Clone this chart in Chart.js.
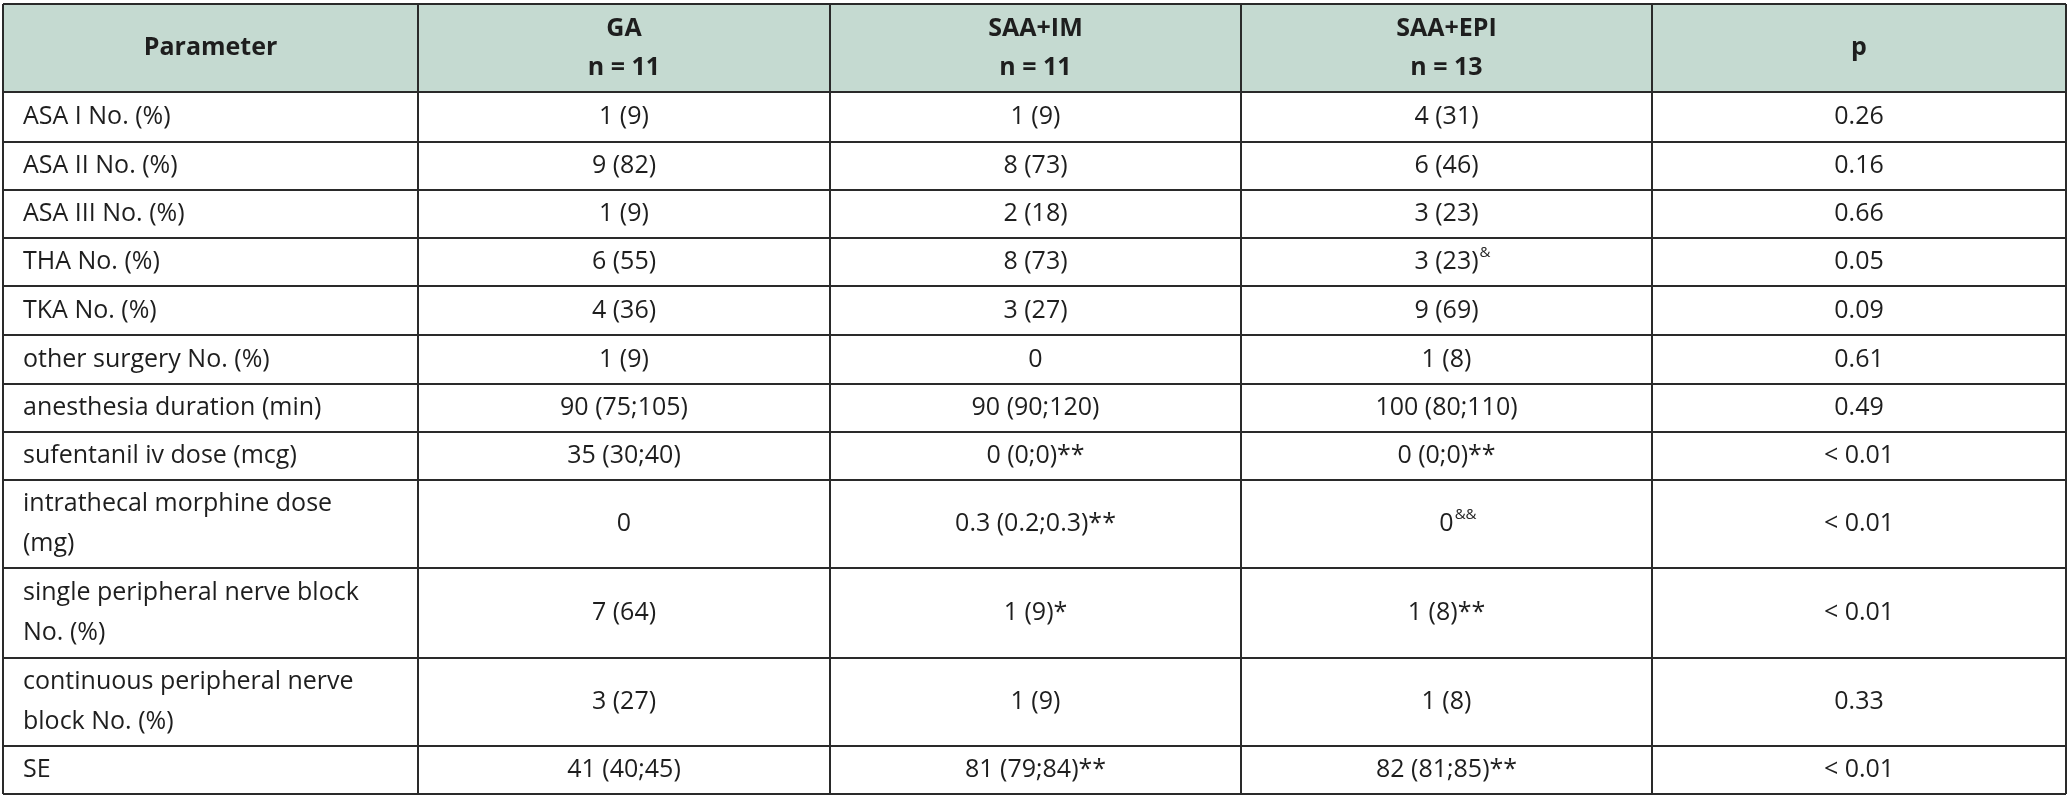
<!DOCTYPE html>
<html><head><meta charset="utf-8">
<script src="https://cdn.jsdelivr.net/npm/chart.js"></script>
<style>html,body{margin:0;padding:0;background:#fff}#wrap{width:2072px;height:800px}</style>
</head><body><div id="wrap"><canvas id="c"></canvas></div>
<script>
const headers = [["Parameter"], ["GA", "n = 11"], ["SAA+IM", "n = 11"], ["SAA+EPI", "n = 13"], ["p"]];
const params = [["ASA I No. (%)"], ["ASA II No. (%)"], ["ASA III No. (%)"], ["THA No. (%)"], ["TKA No. (%)"], ["other surgery No. (%)"], ["anesthesia duration (min)"], ["sufentanil iv dose (mcg)"], ["intrathecal morphine dose", "(mg)"], ["single peripheral nerve block", "No. (%)"], ["continuous peripheral nerve", "block No. (%)"], ["SE"]];
const ga = ["1 (9)", "9 (82)", "1 (9)", "6 (55)", "4 (36)", "1 (9)", "90 (75;105)", "35 (30;40)", "0", "7 (64)", "3 (27)", "41 (40;45)"];
const saaIm = ["1 (9)", "8 (73)", "2 (18)", "8 (73)", "3 (27)", "0", "90 (90;120)", "0 (0;0)**", "0.3 (0.2;0.3)**", "1 (9)*", "1 (9)", "81 (79;84)**"];
const saaEpi = ["4 (31)", "6 (46)", "3 (23)", "3 (23)", "9 (69)", "1 (8)", "100 (80;110)", "0 (0;0)**", "0", "1 (8)**", "1 (8)", "82 (81;85)**"];
const saaEpiSup = ["", "", "", "&", "", "", "", "", "&&", "", "", ""];
const pValues = ["0.26", "0.16", "0.66", "0.05", "0.09", "0.61", "0.49", "< 0.01", "< 0.01", "< 0.01", "0.33", "< 0.01"];
const colEdges = [3, 418, 830, 1241, 1652, 2066];
const rowEdges = [4, 92, 142, 190, 238, 286, 335, 384, 432, 480, 568, 658, 746, 794];

const FONT = '"Open Sans", sans-serif';
const tablePlugin = {
  id: 'table',
  beforeDatasetsDraw(chart) {
    const {ctx, scales: {x, y}} = chart;
    const X = v => x.getPixelForValue(v), Y = v => y.getPixelForValue(v);
    ctx.save();
    ctx.fillStyle = '#c5dad1';
    ctx.fillRect(X(colEdges[0]), Y(rowEdges[0]), X(colEdges[5]) - X(colEdges[0]), Y(rowEdges[1]) - Y(rowEdges[0]));
    ctx.strokeStyle = '#2a2a2a';
    ctx.lineWidth = 2;
    ctx.beginPath();
    const top = Y(rowEdges[0]), bot = Y(rowEdges[rowEdges.length - 1]);
    const lft = X(colEdges[0]), rgt = X(colEdges[colEdges.length - 1]);
    colEdges.forEach(v => { ctx.moveTo(X(v), top); ctx.lineTo(X(v), bot); });
    rowEdges.forEach(v => { ctx.moveTo(lft, Y(v)); ctx.lineTo(rgt, Y(v)); });
    ctx.stroke();
    ctx.restore();
  },
  afterDatasetsDraw(chart) {
    const {ctx, scales: {x, y}} = chart;
    ctx.save();
    ctx.fillStyle = '#1e1e1e';
    ctx.textBaseline = 'middle';
    const cx = i => (x.getPixelForValue(colEdges[i]) + x.getPixelForValue(colEdges[i + 1])) / 2;
    const cy = r => (y.getPixelForValue(rowEdges[r]) + y.getPixelForValue(rowEdges[r + 1])) / 2;
    ctx.font = 'bold 25px ' + FONT;
    ctx.textAlign = 'center';
    headers.forEach((h, i) => {
      const yc = cy(0);
      h.forEach((t, k) => ctx.fillText(t, cx(i), yc + (k - (h.length - 1) / 2) * 39));
    });
    ctx.font = '25px ' + FONT;
    const cols = [ga, saaIm, saaEpi, pValues];
    params.forEach((p, r) => {
      const yc = cy(r + 1);
      ctx.textAlign = 'left';
      p.forEach((t, k) => ctx.fillText(t, x.getPixelForValue(colEdges[0]) + 20, yc + (k - (p.length - 1) / 2) * 40));
      ctx.textAlign = 'center';
      cols.forEach((col, c) => {
        const t = col[r];
        ctx.fillText(t, cx(c + 1), yc);
        if (c === 2 && saaEpiSup[r]) {
          const w = ctx.measureText(t).width;
          ctx.save();
          ctx.font = '15px ' + FONT;
          ctx.textAlign = 'left';
          ctx.fillText(saaEpiSup[r], cx(c + 1) + w / 2 + 1, yc - 9);
          ctx.restore();
        }
      });
    });
    ctx.restore();
  }
};

new Chart(document.getElementById('c'), {
  type: 'scatter',
  data: {datasets: [{data: []}]},
  options: {
    responsive: true, maintainAspectRatio: false, animation: false,
    layout: {padding: 0},
    plugins: {legend: {display: false}, tooltip: {enabled: false}},
    scales: {
      x: {type: 'linear', min: 0, max: 2072, display: false},
      y: {type: 'linear', min: 0, max: 800, reverse: true, display: false}
    }
  },
  plugins: [tablePlugin]
});
</script></body></html>
